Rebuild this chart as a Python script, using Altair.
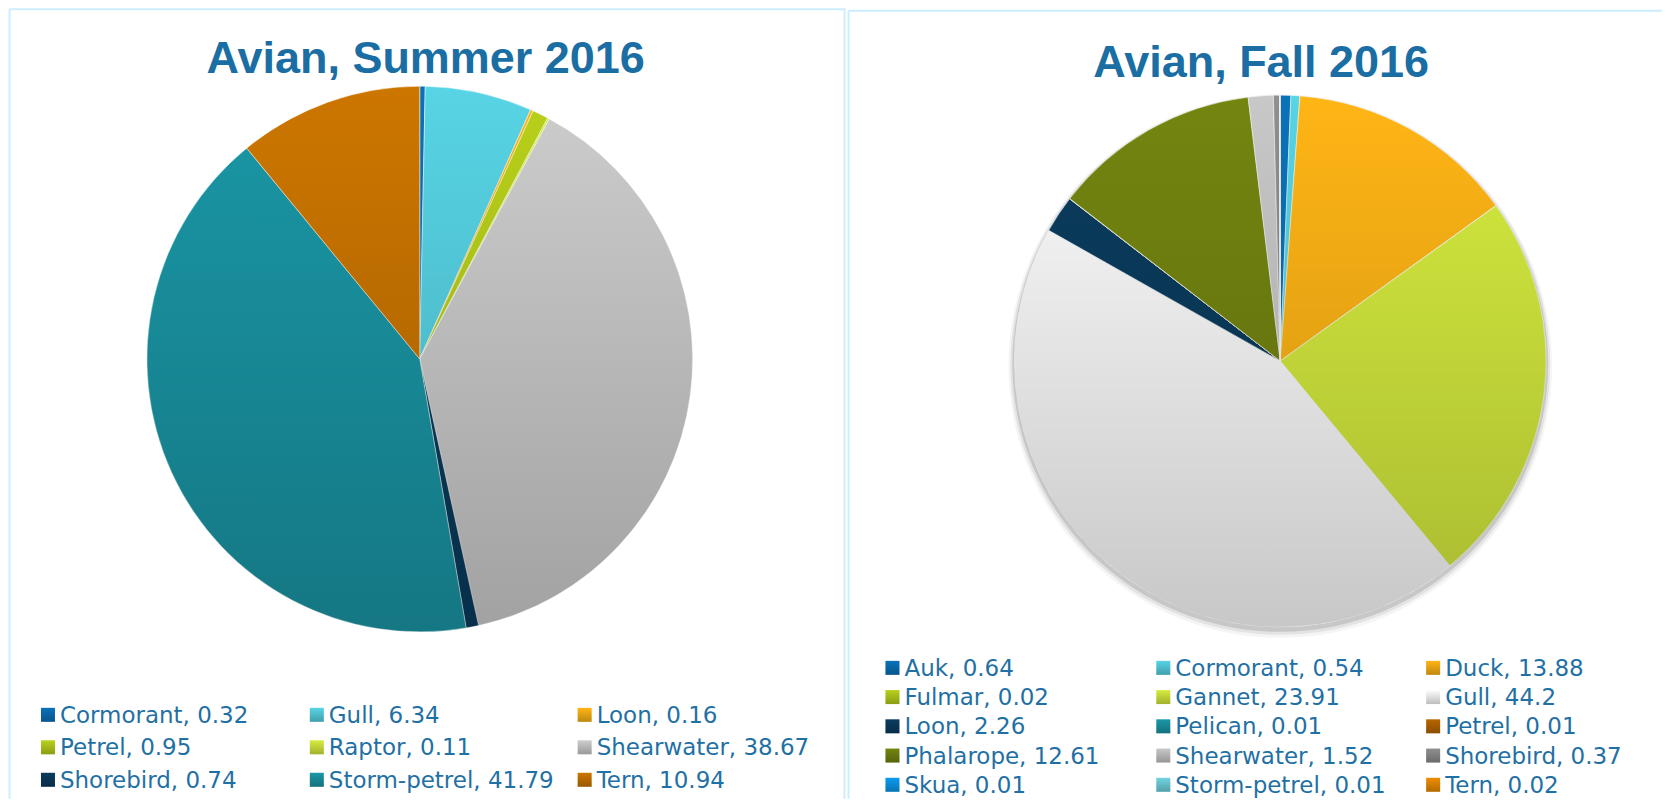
import math
import altair as alt
import pandas as pd

# ---------------- data ----------------
summer_title = "Avian, Summer 2016"
summer_names = ["Cormorant", "Gull", "Loon", "Petrel", "Raptor", "Shearwater",
                "Shorebird", "Storm-petrel", "Tern"]
summer_values = [0.32, 6.34, 0.16, 0.95, 0.11, 38.67, 0.74, 41.79, 10.94]
summer_colors = ["#0A72B9", "#57D4E5", "#FFB515", "#B9D11A", "#D6EC3E", "#CDCDCD",
                 "#0A3C5E", "#1A97A6", "#CC7600"]

fall_title = "Avian, Fall 2016"
fall_names = ["Auk", "Cormorant", "Duck", "Fulmar", "Gannet", "Gull", "Loon",
              "Pelican", "Petrel", "Phalarope", "Shearwater", "Shorebird",
              "Skua", "Storm-petrel", "Tern"]
fall_values = [0.64, 0.54, 13.88, 0.02, 23.91, 44.2, 2.26, 0.01, 0.01, 12.61,
               1.52, 0.37, 0.01, 0.01, 0.02]
fall_colors = ["#0A72B9", "#57D4E5", "#FFB515", "#B9D11A", "#D6EC3E", "#FDFDFD",
               "#0A3C5E", "#1A97A6", "#B86600", "#748510", "#C8C8C8", "#8F8F8F",
               "#0A9BF0", "#70D4E0", "#EE8E00"]

TITLE_COLOR = "#1B6EA3"
TEXT_COLOR = "#1F70A4"
BORDER = "#CBEDFD"


def shade(strength):
    return alt.LinearGradient(
        gradient="linear",
        stops=[alt.GradientStop(color="rgba(0,0,0,0)", offset=0),
               alt.GradientStop(color=f"rgba(0,0,0,{strength})", offset=1)],
        x1=0, x2=0, y1=0, y2=1)


def panel(title, names, values, colors, W, H, bx, by, right_border,
          tx, ty, cx, cy, R, col_range, row_range, shadow):
    df = pd.DataFrame({"name": names, "value": values,
                       "idx": list(range(len(names)))})
    one = pd.DataFrame({"t": [title]})
    layers = []

    b = alt.Chart(one).mark_rule(color=BORDER, strokeWidth=2)
    layers.append(b.encode(x=alt.value(bx), y=alt.value(by), y2=alt.value(H)))
    layers.append(b.encode(x=alt.value(bx), x2=alt.value(W), y=alt.value(by)))
    if right_border is not None:
        layers.append(b.encode(x=alt.value(right_border), y=alt.value(by),
                               y2=alt.value(H)))

    if shadow:
        for dr, dy, op in [(6, 5, 0.04), (4, 4, 0.07), (2, 3, 0.12)]:
            layers.append(
                alt.Chart(one).mark_arc(radius=R + dr, theta=0, theta2=2 * math.pi,
                                        fill="#000000", opacity=op)
                .encode(x=alt.value(cx), y=alt.value(cy + dy)))

    cscale = alt.Scale(domain=names, range=colors)
    pie = alt.Chart(df).mark_arc(radius=R, stroke="white", strokeWidth=0.5).encode(
        theta=alt.Theta("value:Q", stack=True),
        color=alt.Color("name:N", scale=cscale, legend=None),
        order=alt.Order("idx:Q"),
        x=alt.value(cx), y=alt.value(cy))
    layers.append(pie)

    layers.append(
        alt.Chart(one).mark_arc(radius=R, theta=0, theta2=2 * math.pi, fill=shade(0.21))
        .encode(x=alt.value(cx), y=alt.value(cy)))

    layers.append(
        alt.Chart(one).mark_text(font="Liberation Sans", fontSize=45, fontWeight="bold",
                                 color=TITLE_COLOR, align="center", baseline="alphabetic")
        .encode(text="t:N", x=alt.value(tx), y=alt.value(ty)))

    nrows = (len(names) + 2) // 3
    leg = alt.Chart(df).transform_calculate(
        col="datum.idx % 3",
        row="floor(datum.idx / 3)",
        label="datum.name + ', ' + datum.value")
    xenc = alt.X("col:Q", scale=alt.Scale(domain=[0, 1, 2], range=col_range,
                                          nice=False, zero=False), axis=None)
    yenc = alt.Y("row:Q", scale=alt.Scale(domain=[0, nrows - 1], range=row_range,
                                          nice=False, zero=False), axis=None)
    layers.append(leg.mark_square(size=196, opacity=1).encode(
        x=xenc, y=yenc, color=alt.Color("name:N", scale=cscale, legend=None)))
    layers.append(leg.mark_square(size=196, opacity=1, fill=shade(0.25)).encode(x=xenc, y=yenc))
    layers.append(leg.mark_text(align="left", baseline="middle", dx=12, dy=1,
                                font="DejaVu Sans", fontSize=23, color=TEXT_COLOR)
                  .encode(x=xenc, y=yenc, text="label:N"))

    return alt.layer(*layers).properties(width=W, height=H)


left = panel(summer_title, summer_names, summer_values, summer_colors,
             W=838, H=790, bx=1.5, by=0, right_border=837,
             tx=418, ty=64, cx=412, cy=350, R=273,
             col_range=[40, 309, 577], row_range=[706, 771], shadow=False)

right = panel(fall_title, fall_names, fall_values, fall_colors,
              W=816, H=790, bx=2, by=1.5, right_border=None,
              tx=415, ty=68, cx=434, cy=352, R=266,
              col_range=[46, 317, 587], row_range=[659, 776], shadow=True)

chart = (alt.hconcat(left, right, spacing=0)
         .resolve_scale(color="independent", x="independent", y="independent",
                        theta="independent")
         .configure_view(stroke=None)
         .properties(padding={"left": 0, "top": 0, "right": 0, "bottom": 0}))

chart.save("out.html", embed_options={"renderer": "svg", "actions": False})
